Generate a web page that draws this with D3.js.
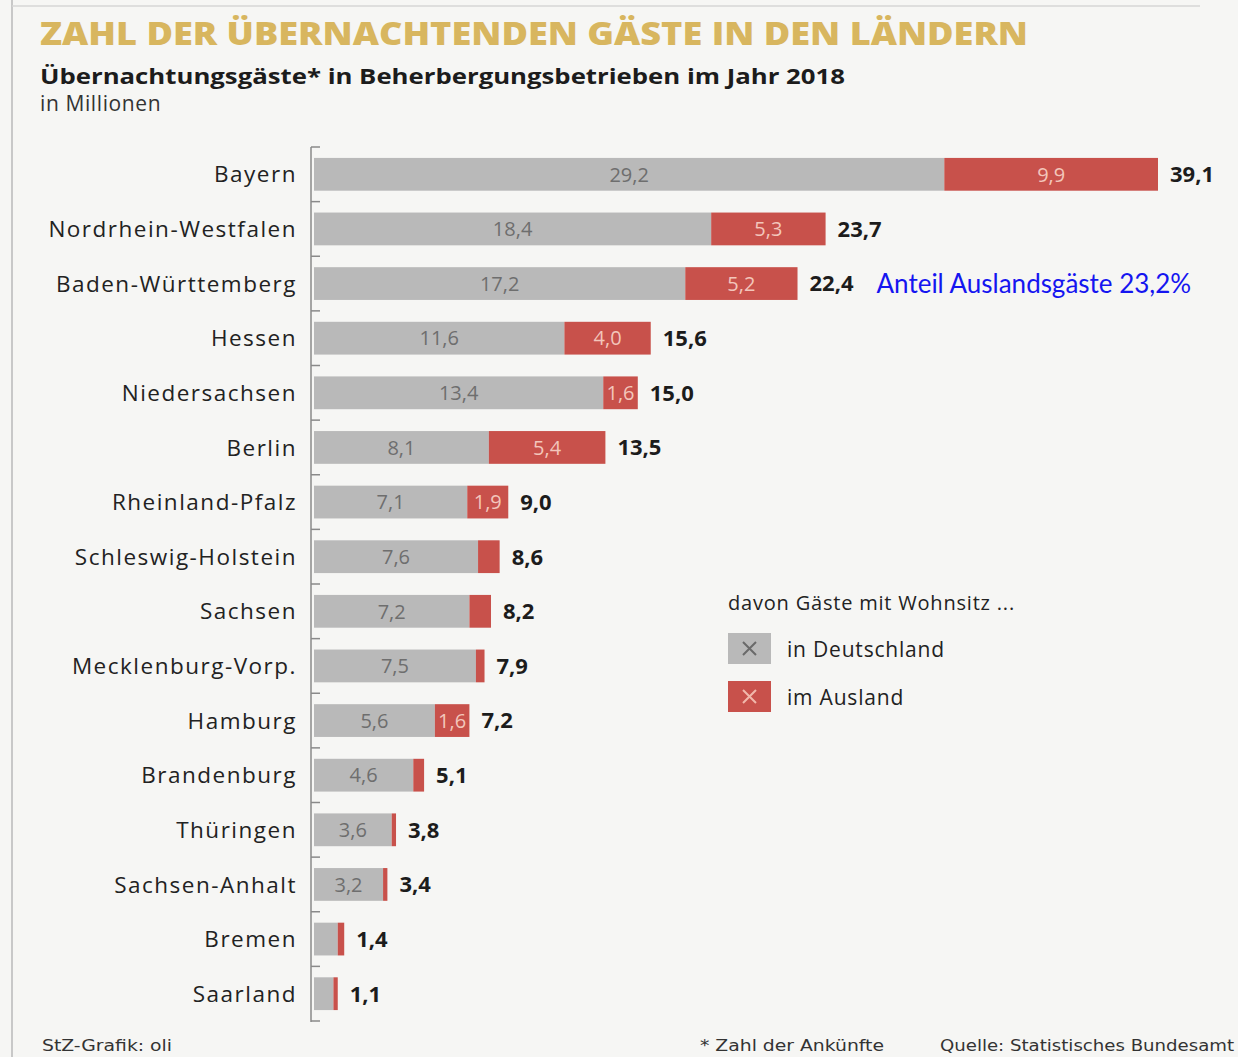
<!DOCTYPE html>
<html>
<head>
<meta charset="utf-8">
<script src="https://cdn.jsdelivr.net/npm/d3@7"></script>
<style>
  body { margin: 0; background: #f6f6f4; }
  svg { display: block; }
</style>
</head>
<body>
<div id="chart"></div>
<script>
// Bundesländer, sorted by total
const laender = ['Bayern', 'Nordrhein-Westfalen', 'Baden-Württemberg', 'Hessen', 'Niedersachsen',
  'Berlin', 'Rheinland-Pfalz', 'Schleswig-Holstein', 'Sachsen', 'Mecklenburg-Vorp.', 'Hamburg',
  'Brandenburg', 'Thüringen', 'Sachsen-Anhalt', 'Bremen', 'Saarland'];
// Gäste mit Wohnsitz in Deutschland (Mio.)
const inland = [29.2, 18.4, 17.2, 11.6, 13.4, 8.1, 7.1, 7.6, 7.2, 7.5, 5.6, 4.6, 3.6, 3.2, 1.1, 0.9];
// Gäste mit Wohnsitz im Ausland (Mio.)
const ausland = [9.9, 5.3, 5.2, 4.0, 1.6, 5.4, 1.9, 1.0, 1.0, 0.4, 1.6, 0.5, 0.2, 0.2, 0.3, 0.2];
const gesamt = [39.1, 23.7, 22.4, 15.6, 15.0, 13.5, 9.0, 8.6, 8.2, 7.9, 7.2, 5.1, 3.8, 3.4, 1.4, 1.1];
// which segments carry a label inside the bar
const showInland = [1, 1, 1, 1, 1, 1, 1, 1, 1, 1, 1, 1, 1, 1, 0, 0];
const showAusland = [1, 1, 1, 1, 1, 1, 1, 0, 0, 0, 1, 0, 0, 0, 0, 0];

const fmt = v => d3.format('.1f')(v).replace('.', ',');

const width = 1238, height = 1057;
const grey = '#b9b9b9', red = '#c8514b';

const svg = d3.select('#chart').append('svg')
  .attr('width', width).attr('height', height);

// paper frame
svg.append('line').attr('x1', 12).attr('x2', 12).attr('y1', 0).attr('y2', height)
  .attr('stroke', '#c8c8c8').attr('stroke-width', 2);
svg.append('line').attr('x1', 12).attr('x2', 1200).attr('y1', 6).attr('y2', 6)
  .attr('stroke', '#d6d6d6').attr('stroke-width', 1.5);

// titles
svg.append('text').attr('x', 40).attr('y', 45)
  .attr('textLength', 988).attr('lengthAdjust', 'spacingAndGlyphs')
  .style('font', '800 31px "Open Sans", sans-serif').style('fill', '#d8b65f')
  .text('ZAHL DER ÜBERNACHTENDEN GÄSTE IN DEN LÄNDERN');
svg.append('text').attr('x', 40).attr('y', 84)
  .attr('textLength', 805).attr('lengthAdjust', 'spacingAndGlyphs')
  .style('font', '700 22px "Open Sans", sans-serif').style('fill', '#1c1c1c')
  .text('Übernachtungsgäste* in Beherbergungsbetrieben im Jahr 2018');
svg.append('text').attr('x', 40).attr('y', 111)
  .style('font', '400 21px "Open Sans", sans-serif').style('fill', '#333')
  .style('letter-spacing', '0.6px')
  .text('in Millionen');

// scales
const x = d3.scaleLinear().domain([0, 39.1]).range([314, 1158]);
const y = d3.scaleBand().domain(laender).range([147, 1021]).paddingInner(0.4).paddingOuter(0.2);

const rows = laender.map((name, i) => ({
  name, inl: inland[i], aus: ausland[i], tot: gesamt[i], si: showInland[i], sa: showAusland[i]
}));

// axis with ticks at row boundaries
const axisX = 311;
svg.append('line').attr('x1', axisX).attr('x2', axisX).attr('y1', 147).attr('y2', 1022)
  .attr('stroke', '#8a8a8a').attr('stroke-width', 1.5);
const bounds = d3.range(laender.length + 1).map(i => 147 + i * y.step());
svg.selectAll('.tick').data(bounds).enter().append('line')
  .attr('x1', axisX).attr('x2', axisX + 9)
  .attr('y1', d => d).attr('y2', d => d)
  .attr('stroke', '#8a8a8a').attr('stroke-width', 1.5);

const g = svg.selectAll('.row').data(rows).enter().append('g')
  .attr('class', 'row');

// inland segment
g.append('rect')
  .attr('x', x(0)).attr('y', d => y(d.name))
  .attr('width', d => x(d.inl) - x(0)).attr('height', y.bandwidth())
  .attr('fill', grey);
// ausland segment: stacked on the inland part, ends at the total
g.append('rect')
  .attr('x', d => x(d.tot - d.aus)).attr('y', d => y(d.name))
  .attr('width', d => x(d.tot) - x(d.tot - d.aus)).attr('height', y.bandwidth())
  .attr('fill', red);

// category labels
g.append('text')
  .attr('x', 297).attr('y', d => y(d.name) + y.bandwidth() / 2)
  .attr('dy', '0.36em').attr('text-anchor', 'end')
  .style('font', '400 22.5px "Open Sans", sans-serif').style('letter-spacing', '1.5px')
  .style('fill', '#222')
  .text(d => d.name);

// value labels in segments
g.filter(d => d.si).append('text')
  .attr('x', d => (x(0) + x(d.tot - d.aus)) / 2).attr('y', d => y(d.name) + y.bandwidth() / 2)
  .attr('dy', '0.36em').attr('text-anchor', 'middle')
  .style('font', '400 20px "Open Sans", sans-serif').style('fill', '#6e6e6e')
  .text(d => fmt(d.inl));
g.filter(d => d.sa).append('text')
  .attr('x', d => (x(d.tot - d.aus) + x(d.tot)) / 2).attr('y', d => y(d.name) + y.bandwidth() / 2)
  .attr('dy', '0.36em').attr('text-anchor', 'middle')
  .style('font', '400 20px "Open Sans", sans-serif').style('fill', '#f3c6bb')
  .text(d => fmt(d.aus));

// totals
g.append('text')
  .attr('x', d => x(d.tot) + 12).attr('y', d => y(d.name) + y.bandwidth() / 2)
  .attr('dy', '0.36em')
  .style('font', '700 22px "Open Sans", sans-serif').style('fill', '#1c1c1c')
  .text(d => fmt(d.tot));

// annotation next to Baden-Württemberg
svg.append('text')
  .attr('x', x(22.4) + 79).attr('y', y('Baden-Württemberg') + y.bandwidth() / 2)
  .attr('dy', '0.36em')
  .style('font', '400 26px Lato, "Open Sans", sans-serif').style('fill', '#1515f0')
  .text('Anteil Auslandsgäste 23,2%');

// legend
const leg = svg.append('g').attr('transform', 'translate(728,0)');
leg.append('text').attr('x', 0).attr('y', 610)
  .style('font', '400 20px "Open Sans", sans-serif').style('fill', '#222')
  .style('letter-spacing', '0.8px')
  .text('davon Gäste mit Wohnsitz ...');
const legItems = [
  {label: 'in Deutschland', fill: grey, cross: '#6a6a6a', y: 633},
  {label: 'im Ausland', fill: red, cross: '#f1b8ab', y: 681}
];
const li = leg.selectAll('.li').data(legItems).enter().append('g')
  .attr('transform', d => `translate(0,${d.y})`);
li.append('rect').attr('width', 43).attr('height', 31).attr('fill', d => d.fill);
li.append('path').attr('d', 'M15,9 L28,22 M28,9 L15,22')
  .attr('stroke', d => d.cross).attr('stroke-width', 2);
li.append('text').attr('x', 59).attr('y', 16).attr('dy', '0.36em')
  .style('font', '400 21px "Open Sans", sans-serif').style('fill', '#222')
  .style('letter-spacing', '0.8px')
  .text(d => d.label);

// footer
const foot = '"Liberation Sans Narrow", "DejaVu Sans Condensed", sans-serif';
const footer = [
  {t: 'StZ-Grafik: oli', x: 42, w: 130},
  {t: '* Zahl der Ankünfte', x: 700, w: 184},
  {t: 'Quelle: Statistisches Bundesamt', x: 940, w: 294}
];
svg.selectAll('.foot').data(footer).enter().append('text')
  .attr('x', d => d.x).attr('y', 1051)
  .attr('textLength', d => d.w).attr('lengthAdjust', 'spacingAndGlyphs')
  .style('font', `400 16px ${foot}`).style('fill', '#333')
  .text(d => d.t);
</script>
</body>
</html>
